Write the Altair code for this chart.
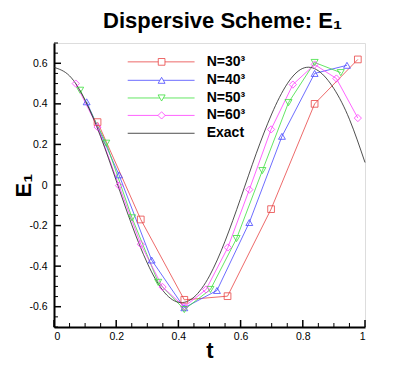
import altair as alt
import pandas as pd

# ---------------- data ----------------
series_names = ["N=30³", "N=40³", "N=50³", "N=60³"]
series_colors = ["#e84444", "#4848ff", "#3ce03c", "#ff3cff"]
series_shapes = ["square", "triangle-up", "triangle-down", "diamond"]
series_sizes = [45, 52, 52, 70]

t30 = [0.140, 0.279, 0.419, 0.558, 0.698, 0.838, 0.977]
e30 = [0.310, -0.170, -0.566, -0.548, -0.119, 0.400, 0.619]

t40 = [0.105, 0.209, 0.314, 0.419, 0.524, 0.628, 0.733, 0.838, 0.942]
e40 = [0.410, 0.050, -0.370, -0.605, -0.520, -0.185, 0.240, 0.550, 0.590]

t50 = [0.084, 0.168, 0.251, 0.335, 0.419, 0.503, 0.587, 0.670, 0.754, 0.838, 0.922]
e50 = [0.467, 0.206, -0.162, -0.480, -0.614, -0.515, -0.264, 0.071, 0.406, 0.604, 0.554]

t60 = [0.070, 0.140, 0.209, 0.279, 0.349, 0.419, 0.489, 0.559, 0.628, 0.698, 0.768, 0.838, 0.908, 0.977]
e60 = [0.500, 0.286, -0.003, -0.292, -0.503, -0.600, -0.515, -0.308, -0.023, 0.274, 0.495, 0.594, 0.525, 0.330]

t_exact = [0.00, 0.05, 0.10, 0.15, 0.20, 0.25, 0.30, 0.35, 0.40, 0.45, 0.50,
           0.55, 0.60, 0.65, 0.70, 0.75, 0.80, 0.85, 0.90, 0.95, 1.00]
e_exact = [0.580, 0.538, 0.418, 0.238, 0.022, -0.196, -0.385, -0.520, -0.578, -0.553, -0.448,
           -0.277, -0.066, 0.154, 0.350, 0.499, 0.575, 0.563, 0.475, 0.324, 0.111]

x_major = [0, 0.2, 0.4, 0.6, 0.8, 1.0]
x_minor = [0.05, 0.1, 0.15, 0.25, 0.3, 0.35, 0.45, 0.5, 0.55, 0.65, 0.7, 0.75, 0.85, 0.9, 0.95]
y_major = [-0.6, -0.4, -0.2, 0, 0.2, 0.4, 0.6]
y_minor = [-0.7, -0.65, -0.55, -0.5, -0.45, -0.35, -0.3, -0.25, -0.15, -0.1, -0.05,
           0.05, 0.1, 0.15, 0.25, 0.3, 0.35, 0.45, 0.5, 0.55, 0.65, 0.7]

legend_labels = series_names + ["Exact"]
legend_rows_e = [0.607, 0.516, 0.429, 0.343, 0.255]
legend_line_t = [0.237, 0.452]
legend_mark_t = 0.346
legend_text_t = 0.491

# ---------------- tables ----------------
rows = []
for name, ts, es in zip(series_names, [t30, t40, t50, t60], [e30, e40, e50, e60]):
    for i, (t, e) in enumerate(zip(ts, es)):
        rows.append({"series": name, "i": i, "t": t, "e": e})
df = pd.DataFrame(rows)
df_exact = pd.DataFrame({"t": t_exact, "e": e_exact})

df_leg = pd.DataFrame({
    "series": legend_labels,
    "e": legend_rows_e,
    "x1": [legend_line_t[0]] * 5,
    "x2": [legend_line_t[1]] * 5,
    "xm": [legend_mark_t] * 5,
    "xt": [legend_text_t] * 5,
})
df_leg_pts = df_leg[df_leg["series"] != "Exact"]

W, H = 311, 284
FONT = "Liberation Sans"

xs = alt.Scale(domain=[0, 1], nice=False, zero=False)
ys = alt.Scale(domain=[-0.7, 0.7], nice=False, zero=False)

lab = "datum.value < 0 ? '-' + format(-datum.value, '~g') : format(datum.value, '~g')"
xaxis = alt.Axis(values=x_major, labelExpr=lab, ticks=False, grid=False, domainWidth=2,
                 domainColor="black", labelFont=FONT, labelFontSize=10.5, labelColor="black",
                 labelPadding=4, title="t", titleFont=FONT, titleFontSize=22,
                 titleFontWeight="bold", titleColor="black", titleBaseline="alphabetic",
                 titleY=30, titleX=W / 2)
yaxis = alt.Axis(values=y_major, labelExpr=lab, ticks=False, grid=False, domainWidth=2,
                 domainColor="black", labelFont=FONT, labelFontSize=10.5, labelColor="black",
                 labelPadding=7, title="E₁", titleFont=FONT, titleFontSize=22,
                 titleFontWeight="bold", titleColor="black", titleBaseline="alphabetic",
                 titleAngle=270, titleX=-24, titleY=H / 2)

col = alt.Color("series:N", scale=alt.Scale(domain=legend_labels, range=series_colors + ["#222222"]),
                legend=None)
shp = alt.Shape("series:N", scale=alt.Scale(domain=series_names, range=series_shapes), legend=None)
siz = alt.Size("series:N", scale=alt.Scale(domain=series_names, range=series_sizes), legend=None)

X = lambda f: alt.X(f, type="quantitative", scale=xs, axis=xaxis)
Y = lambda f: alt.Y(f, type="quantitative", scale=ys, axis=yaxis)

exact = alt.Chart(df_exact).mark_line(color="#222222", strokeWidth=0.8, interpolate="natural").encode(
    x=X("t"), y=Y("e"))

lines = alt.Chart(df).mark_line(strokeWidth=0.8).encode(
    x=X("t"), y=Y("e"), color=col, order="i:Q")

pts = alt.Chart(df).mark_point(filled=False, strokeWidth=0.8, opacity=1).encode(
    x=X("t"), y=Y("e"), color=col, shape=shp, size=siz)

xtick_major = alt.Chart(pd.DataFrame({"v": x_major})).mark_rule(color="black", strokeWidth=1.5).encode(
    x=X("v"), y=alt.value(H), y2=alt.value(H - 7))
xtick_minor = alt.Chart(pd.DataFrame({"v": x_minor})).mark_rule(color="black", strokeWidth=1).encode(
    x=X("v"), y=alt.value(H), y2=alt.value(H - 4))
ytick_major = alt.Chart(pd.DataFrame({"v": y_major})).mark_rule(color="black", strokeWidth=1.5).encode(
    y=Y("v"), x=alt.value(0), x2=alt.value(7))
ytick_minor = alt.Chart(pd.DataFrame({"v": y_minor})).mark_rule(color="black", strokeWidth=1).encode(
    y=Y("v"), x=alt.value(0), x2=alt.value(4))

leg_lines = alt.Chart(df_leg).mark_rule(strokeWidth=0.8).encode(
    x=X("x1"), x2="x2", y=Y("e"), color=col)
leg_pts = alt.Chart(df_leg_pts).mark_point(filled=False, strokeWidth=0.8, opacity=1, fill="white").encode(
    x=X("xm"), y=Y("e"), color=col, shape=shp, size=siz)
leg_text = alt.Chart(df_leg).mark_text(align="left", baseline="middle", font=FONT, fontSize=14,
                                       fontWeight="bold", color="black").encode(
    x=X("xt"), y=Y("e"), text="series:N")

chart = alt.layer(
    lines, exact, pts, xtick_major, xtick_minor, ytick_major, ytick_minor,
    leg_lines, leg_pts, leg_text
).properties(
    width=W, height=H,
    title=alt.TitleParams("Dispersive Scheme: E₁", font=FONT, fontSize=22, fontWeight="bold",
                          color="black", anchor="middle", offset=10, dx=13),
    autosize=alt.AutoSizeParams(type="none"),
    padding={"left": 46, "top": 35, "right": 42, "bottom": 34},
).configure_view(stroke=None).configure(background="white")

chart.save("out.html", embed_options={"renderer": "svg", "actions": False})
